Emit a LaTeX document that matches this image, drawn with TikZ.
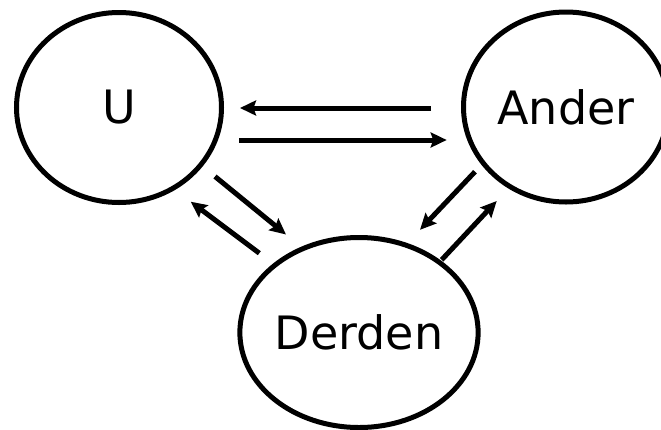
\documentclass[tikz,border=0pt]{standalone}
\usepackage{fontspec}
\setmainfont{DejaVu Sans}
\usetikzlibrary{arrows.meta,shapes.geometric}
\begin{document}
\begin{tikzpicture}[x=1pt,y=-1pt,
  state/.style={ellipse,draw,line width=5pt,minimum width=205pt,minimum height=190pt,inner sep=0pt,
    font=\fontsize{46}{50}\selectfont},
  conn/.style={line width=5pt,-{Stealth[length=16pt,width=15pt,inset=2.5pt]}}]
\useasboundingbox (0,0) rectangle (661,429);
\begin{scope}
\clip (0,0) rectangle (661,429);
\node[state] (U) at (119,107.5) {U};
\node[state] (A) at (566,107) {Ander};
\node[state] (D) at (359,332.5) {Derden};
\end{scope}
\draw[conn] ([shift={(-135,1)}]A.center) -- ([shift={(121,0.5)}]U.center);
\draw[conn] ([shift={(120,32.5)}]U.center) -- ([shift={(-119.3,33)}]A.center);
\draw[conn] ([shift={(96,69)}]U.center) -- ([shift={(-73,-98)}]D.center);
\draw[conn] ([shift={(-99.7,-79.3)}]D.center) -- ([shift={(71.7,94.2)}]U.center);
\draw[conn] ([shift={(-91,64.7)}]A.center) -- ([shift={(61,-102.7)}]D.center);
\draw[conn] ([shift={(82.7,-72.7)}]D.center) -- ([shift={(-69.3,94)}]A.center);
\end{tikzpicture}
\end{document}
